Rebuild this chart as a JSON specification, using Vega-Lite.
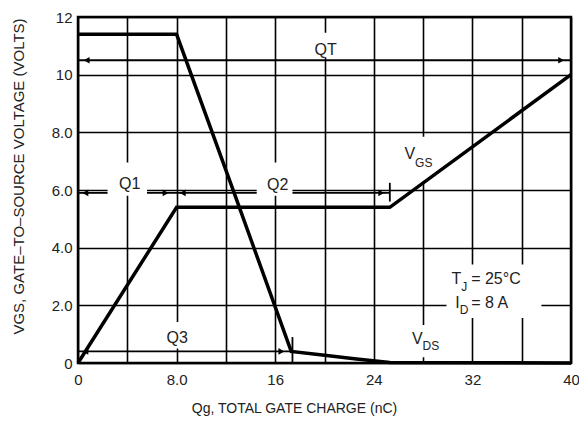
{
  "$schema": "https://vega.github.io/schema/vega-lite/v6.json",
  "width": 493,
  "height": 346,
  "autosize": {"type": "none"},
  "padding": {"left": 78, "top": 17, "right": 8, "bottom": 61},
  "background": "white",
  "config": {
    "view": {"stroke": "#000", "strokeWidth": 2.5},
    "font": "Liberation Sans",
    "text": {"font": "Liberation Sans", "color": "#222"}
  },
  "datasets": {
    "vgs": [
      {"q": 0, "v": 0},
      {"q": 8, "v": 5.4},
      {"q": 25.3, "v": 5.4},
      {"q": 40, "v": 10}
    ],
    "vds": [
      {"q": 0, "v": 11.4},
      {"q": 8, "v": 11.4},
      {"q": 12.5, "v": 6.1},
      {"q": 17.3, "v": 0.4},
      {"q": 20, "v": 0.27},
      {"q": 22.6, "v": 0.14},
      {"q": 25.3, "v": 0.02},
      {"q": 40, "v": 0}
    ],
    "masks": [
      {"x1": 18.4, "x2": 21.4, "y1": 10.6, "y2": 11.45},
      {"x1": 2.4, "x2": 5.6, "y1": 5.8, "y2": 6.95},
      {"x1": 14.5, "x2": 17.4, "y1": 5.8, "y2": 6.95},
      {"x1": 6.4, "x2": 9.3, "y1": 0.5, "y2": 1.42},
      {"x1": 25.7, "x2": 29.6, "y1": 6.3, "y2": 7.85},
      {"x1": 29.9, "x2": 37.6, "y1": 1.56, "y2": 3.42},
      {"x1": 26.1, "x2": 29.9, "y1": 0.2, "y2": 1.32}
    ],
    "dims": [
      {"x1": 0, "x2": 40, "y": 10.5},
      {"x1": 0, "x2": 2.4, "y": 5.9},
      {"x1": 5.6, "x2": 14.5, "y": 5.9},
      {"x1": 17.4, "x2": 25.3, "y": 5.9},
      {"x1": 0, "x2": 17.3, "y": 0.4}
    ],
    "ends": [
      {"x": 25.3, "y1": 5.6, "y2": 6.25},
      {"x": 17.4, "y1": 0, "y2": 0.9}
    ],
    "arrows": [
      {"x": 0.7, "y": 10.5, "dir": "left"},
      {"x": 39.2, "y": 10.5, "dir": "right"},
      {"x": 0.6, "y": 5.9, "dir": "left"},
      {"x": 7.1, "y": 5.9, "dir": "right"},
      {"x": 8.5, "y": 5.9, "dir": "left"},
      {"x": 24.6, "y": 5.9, "dir": "right"},
      {"x": 0.6, "y": 0.4, "dir": "left"},
      {"x": 16.5, "y": 0.4, "dir": "right"}
    ],
    "centered": [
      {"x": 20.1, "y": 10.85, "t": "QT"},
      {"x": 4.2, "y": 6.2, "t": "Q1"},
      {"x": 16.2, "y": 6.17, "t": "Q2"},
      {"x": 8.05, "y": 0.87, "t": "Q3"}
    ],
    "pieces": [
      {"x": 26.5, "y": 7.25, "t": "V", "kind": "main"},
      {"x": 27.35, "y": 6.95, "t": "GS", "kind": "sub"},
      {"x": 27.1, "y": 0.83, "t": "V", "kind": "main"},
      {"x": 27.95, "y": 0.58, "t": "DS", "kind": "sub"},
      {"x": 30.3, "y": 2.9, "t": "T", "kind": "main"},
      {"x": 31.1, "y": 2.65, "t": "J", "kind": "sub"},
      {"x": 31.9, "y": 2.9, "t": "= 25°C", "kind": "main"},
      {"x": 30.6, "y": 2.08, "t": "I", "kind": "main"},
      {"x": 30.97, "y": 1.83, "t": "D", "kind": "sub"},
      {"x": 31.9, "y": 2.08, "t": "= 8 A", "kind": "main"}
    ]
  },
  "layer": [
    {
      "data": {"name": "masks"},
      "mark": {"type": "rect", "fill": "white", "strokeWidth": 0},
      "encoding": {
        "x": {
          "field": "x1", "type": "quantitative",
          "scale": {"domain": [0, 40], "nice": false, "zero": false},
          "axis": {
            "values": [0, 4, 8, 12, 16, 20, 24, 28, 32, 36, 40],
            "labelExpr": "datum.value % 8 == 0 ? (datum.value == 0 ? '0' : (datum.value < 10 ? format(datum.value, '.1f') : format(datum.value, 'd'))) : ''",
            "ticks": false, "domain": false,
            "grid": true, "gridColor": "#000", "gridWidth": 1.6, "gridOpacity": 1,
            "labelFont": "Liberation Sans", "labelFontSize": 15, "labelColor": "#222",
            "labelPadding": 9, "labelFlush": false, "labelOverlap": false, "labelBound": false,
            "title": "Qg, TOTAL GATE CHARGE (nC)",
            "titleFont": "Liberation Sans", "titleFontSize": 14, "titleFontWeight": "normal", "titleColor": "#222",
            "titleX": 216, "titleY": 45, "titleBaseline": "middle", "titleAlign": "center"
          }
        },
        "x2": {"field": "x2"},
        "y": {
          "field": "y1", "type": "quantitative",
          "scale": {"domain": [0, 12], "nice": false, "zero": false},
          "axis": {
            "values": [0, 1, 2, 3, 4, 5, 6, 7, 8, 9, 10, 11, 12],
            "labelExpr": "datum.value % 2 == 0 ? (datum.value == 0 ? '0' : (datum.value < 10 ? format(datum.value, '.1f') : format(datum.value, 'd'))) : ''",
            "ticks": false, "domain": false,
            "grid": true, "gridColor": "#000", "gridWidth": 1.6, "gridOpacity": 1,
            "labelFont": "Liberation Sans", "labelFontSize": 15, "labelColor": "#222",
            "labelPadding": 6, "labelOverlap": false, "labelBound": false,
            "title": "VGS, GATE–TO–SOURCE VOLTAGE (VOLTS)",
            "titleFont": "Liberation Sans", "titleFontSize": 15, "titleFontWeight": "normal", "titleColor": "#222",
            "titleX": -60, "titleY": 159, "titleBaseline": "middle", "titleAlign": "center"
          }
        },
        "y2": {"field": "y2"}
      }
    },
    {
      "data": {"name": "dims"},
      "mark": {"type": "rule", "color": "#000", "strokeWidth": 1.8},
      "encoding": {
        "x": {"field": "x1", "type": "quantitative"},
        "x2": {"field": "x2"},
        "y": {"field": "y", "type": "quantitative"}
      }
    },
    {
      "data": {"name": "ends"},
      "mark": {"type": "rule", "color": "#000", "strokeWidth": 1.8},
      "encoding": {
        "x": {"field": "x", "type": "quantitative"},
        "y": {"field": "y1", "type": "quantitative"},
        "y2": {"field": "y2"}
      }
    },
    {
      "data": {"name": "arrows"},
      "mark": {"type": "point", "filled": true, "color": "#000", "opacity": 1, "size": 45},
      "encoding": {
        "x": {"field": "x", "type": "quantitative"},
        "y": {"field": "y", "type": "quantitative"},
        "shape": {"field": "dir", "type": "nominal", "scale": {"domain": ["left", "right"], "range": ["triangle-left", "triangle-right"]}, "legend": null}
      }
    },
    {
      "data": {"name": "vgs"},
      "mark": {"type": "line", "color": "#000", "strokeWidth": 3.5},
      "encoding": {
        "x": {"field": "q", "type": "quantitative"},
        "y": {"field": "v", "type": "quantitative"}
      }
    },
    {
      "data": {"name": "vds"},
      "mark": {"type": "line", "color": "#000", "strokeWidth": 3.5},
      "encoding": {
        "x": {"field": "q", "type": "quantitative"},
        "y": {"field": "v", "type": "quantitative"}
      }
    },
    {
      "data": {"name": "centered"},
      "mark": {"type": "text", "align": "center", "baseline": "middle", "fontSize": 16, "color": "#222"},
      "encoding": {
        "x": {"field": "x", "type": "quantitative"},
        "y": {"field": "y", "type": "quantitative"},
        "text": {"field": "t"}
      }
    },
    {
      "data": {"name": "pieces"},
      "mark": {"type": "text", "align": "left", "baseline": "middle", "color": "#222"},
      "encoding": {
        "x": {"field": "x", "type": "quantitative"},
        "y": {"field": "y", "type": "quantitative"},
        "text": {"field": "t"},
        "size": {"field": "kind", "type": "nominal", "scale": {"domain": ["main", "sub"], "range": [16, 12]}, "legend": null}
      }
    }
  ]
}
